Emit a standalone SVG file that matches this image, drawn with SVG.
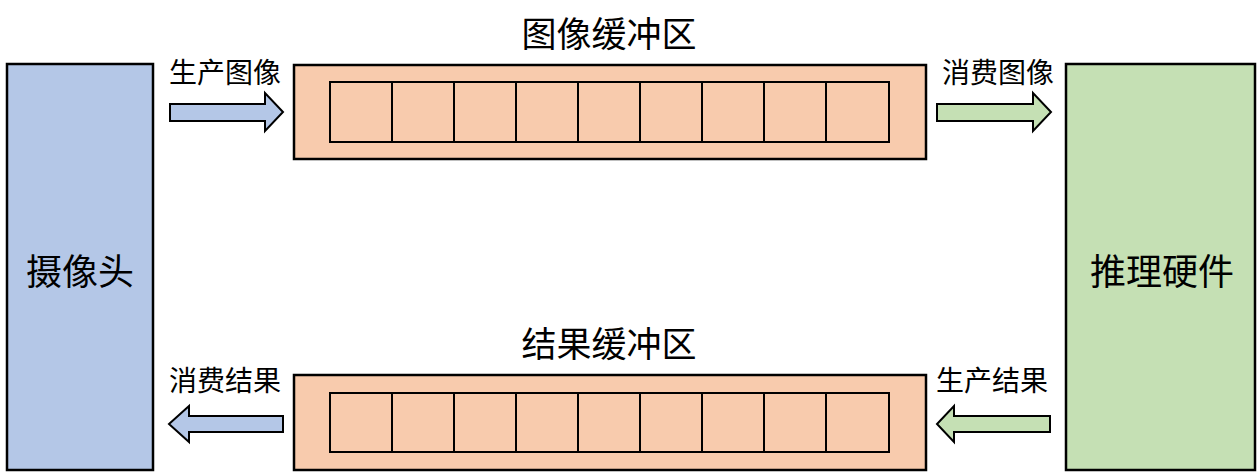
<svg xmlns="http://www.w3.org/2000/svg" width="1260" height="473" viewBox="0 0 1260 473">
<style>
.blue{fill:#B4C7E7;stroke:#000;stroke-width:2.5}
.green{fill:#C5E0B4;stroke:#000;stroke-width:2.5}
.orange{fill:#F8CBAD;stroke:#000;stroke-width:2.5}
.cell{fill:none;stroke:#000;stroke-width:2}
.arr{stroke:#000;stroke-width:2;stroke-linejoin:miter}
text{font-family:"Noto Sans CJK SC","Noto Sans",sans-serif;fill:#000}
.big{font-size:36px}
.title{font-size:35px}
.lbl{font-size:28px}
</style>
<rect width="1260" height="473" fill="#fff"/>
<g id="camera">
<rect class="blue" x="7" y="64" width="146" height="406"/>
<text class="big" x="80" y="285" text-anchor="middle">摄像头</text>
</g>
<g id="inference">
<rect class="green" x="1066" y="64" width="189" height="406"/>
<text class="big" x="1162" y="285" text-anchor="middle">推理硬件</text>
</g>
<g id="image-buffer">
<text class="title" x="609" y="47" text-anchor="middle">图像缓冲区</text>
<rect class="orange" x="294" y="65" width="632" height="94"/>
<rect class="cell" x="330" y="82" width="559" height="60"/>
<path class="cell" d="M392 82V142M454 82V142M516 82V142M578 82V142M640 82V142M702 82V142M764 82V142M826 82V142"/>
</g>
<g id="result-buffer">
<text class="title" x="609" y="357" text-anchor="middle">结果缓冲区</text>
<rect class="orange" x="294" y="375" width="632" height="95"/>
<rect class="cell" x="330" y="393" width="559" height="59"/>
<path class="cell" d="M392 393V452M454 393V452M516 393V452M578 393V452M640 393V452M702 393V452M764 393V452M826 393V452"/>
</g>
<g id="connectors">
<path class="arr" fill="#B4C7E7" d="M170 104H265V93L283 112L265 131V121H170Z"/>
<text class="lbl" x="225" y="83" text-anchor="middle">生产图像</text>
<path class="arr" fill="#C5E0B4" d="M937 104H1033V93L1051 112L1033 131V121H937Z"/>
<text class="lbl" x="998" y="83" text-anchor="middle">消费图像</text>
<path class="arr" fill="#B4C7E7" d="M283 416H189V406L169 424L189 442V432H283Z"/>
<text class="lbl" x="225" y="391" text-anchor="middle">消费结果</text>
<path class="arr" fill="#C5E0B4" d="M1050 416H954V406L937 424L954 442V432H1050Z"/>
<text class="lbl" x="992" y="391" text-anchor="middle">生产结果</text>
</g>
</svg>
